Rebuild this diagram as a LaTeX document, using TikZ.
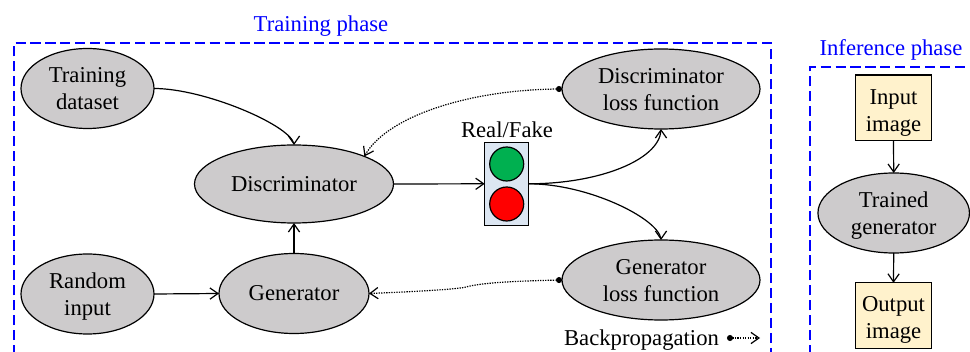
\documentclass[tikz,border=0pt]{standalone}
\usepackage{fontspec}
\setmainfont{Liberation Serif}
\usetikzlibrary{shapes.geometric,arrows.meta,calc,bending}
\definecolor{elfill}{RGB}{205,203,204}
\definecolor{boxfill}{RGB}{255,242,204}
\definecolor{lightfill}{RGB}{220,230,242}
\definecolor{gogreen}{RGB}{0,176,80}
\definecolor{phaseblue}{RGB}{0,0,255}
\newcommand{\twolines}[3][-6.1pt]{\raisebox{#1}[0pt][0pt]{\begin{tabular}{@{}c@{}}#2\\#3\end{tabular}}}
\tikzset{
  x=0.75pt,y=-0.75pt,
  every node/.style={font=\fontsize{17}{20.25}\selectfont,inner sep=0pt,outer sep=0pt},
  el/.style={ellipse,draw,fill=elfill,line width=0.9pt,align=center,minimum width=#1*0.75pt,minimum height=60pt},
  imgbox/.style={draw,fill=boxfill,line width=0.9pt,minimum width=57.5pt,minimum height=49pt},
  phasebox/.style={draw=phaseblue,line width=0.85pt,dash pattern=on 7.6pt off 3.6pt},
  phaselabel/.style={text=phaseblue},
  flow/.style={-{Straight Barb[length=6pt,width=8pt,angle'=70,flex=0]},line width=0.9pt},
  back/.style={{Circle[length=4.5pt]}-{Straight Barb[length=6pt,width=8pt,angle'=70,flex=0]},line width=0.9pt,dash pattern=on 1pt off 0.9pt},
}
\begin{document}
\begin{tikzpicture}
\useasboundingbox (0,0) rectangle (970,352);
\clip (0,0) rectangle (970,352);
% phase boxes
\draw[phasebox] (14,370) -- (14,43) -- (771,43) -- (771,370);
\draw[phasebox] (810,370) -- (810,67) -- (990,67);
\node[phaselabel] (tp) at (321,26) {Training phase};
\node[phaselabel] (ip) at (891,50) {Inference phase};
% ellipses
\node[el=133] (td) at (87.5,88.5) {\twolines{Training}{dataset}};
\node[el=199,minimum height=58.5pt] (dd) at (294,184) {Discriminator};
\node[el=133] (ri) at (87.5,294) {\twolines{Random}{input}};
\node[el=150] (gg) at (294,293.5) {Generator};
\node[el=198] (dl) at (661,89) {\twolines{Discriminator}{loss function}};
\node[el=198] (gl) at (661,280) {\twolines{Generator}{loss function}};
% traffic light
\node[draw,fill=lightfill,line width=0.9pt,minimum width=33pt,minimum height=62.25pt] (tl) at (506.7,183.8) {};
\node[circle,draw,fill=gogreen,line width=0.9pt,minimum size=25.5pt] (gc) at (506.7,164) {};
\node[circle,draw,fill=red,line width=0.9pt,minimum size=25.5pt] (rc) at (506.7,204) {};
\node[anchor=base] (rf) at (507,137.3) {Real/Fake};
% inference
\node[imgbox] (ii) at (893.5,107.7) {\twolines[-8pt]{Input}{image}};
\node[el=151.5] (tg) at (893.7,213) {\twolines{Trained}{generator}};
\node[imgbox] (oi) at (893.5,315.5) {\twolines[-7.2pt]{Output}{image}};
% legend
\node[anchor=base] (bp) at (641.5,345) {Backpropagation};
\coordinate (la) at (727,338);
\coordinate (lb) at (760,338);
% connectors
\draw[flow] (td.east) .. controls ($(td.east)+(52,0)$) and ($(dd.north)+(0,-18)$) .. (dd.north);
\draw[flow] (dd.east) -- (tl.west);
\draw[flow] (gg.north) -- (dd.south);
\draw[flow] (ri.east) -- (gg.west);
\draw[flow] (tl.east) .. controls ($(tl.east)+(72,0)$) and ($(dl.south)+(0,30)$) .. (dl.south);
\draw[flow] (tl.east) .. controls ($(tl.east)+(61,0)$) and ($(gl.north)+(0,-20)$) .. (gl.north);
\draw[back] (dl.west) .. controls ($(dl.west)+(-92,0)$) and ($(dd.north east)+(21,-40)$) .. (dd.north east);
\draw[back] (gl.west) .. controls ($(gl.west)+(-50,1)$) and ($(gl.west)+(-82,3)$) .. ($(gl.west)+(-96,7)$) .. controls ($(gl.west)+(-102,9)$) and ($(gg.east)+(50,-2)$) .. (gg.east);
\draw[back] (la) -- (lb);
\draw[flow] (ii.south) -- (tg.north);
\draw[flow] (tg.south) -- (oi.north);
\end{tikzpicture}
\end{document}
